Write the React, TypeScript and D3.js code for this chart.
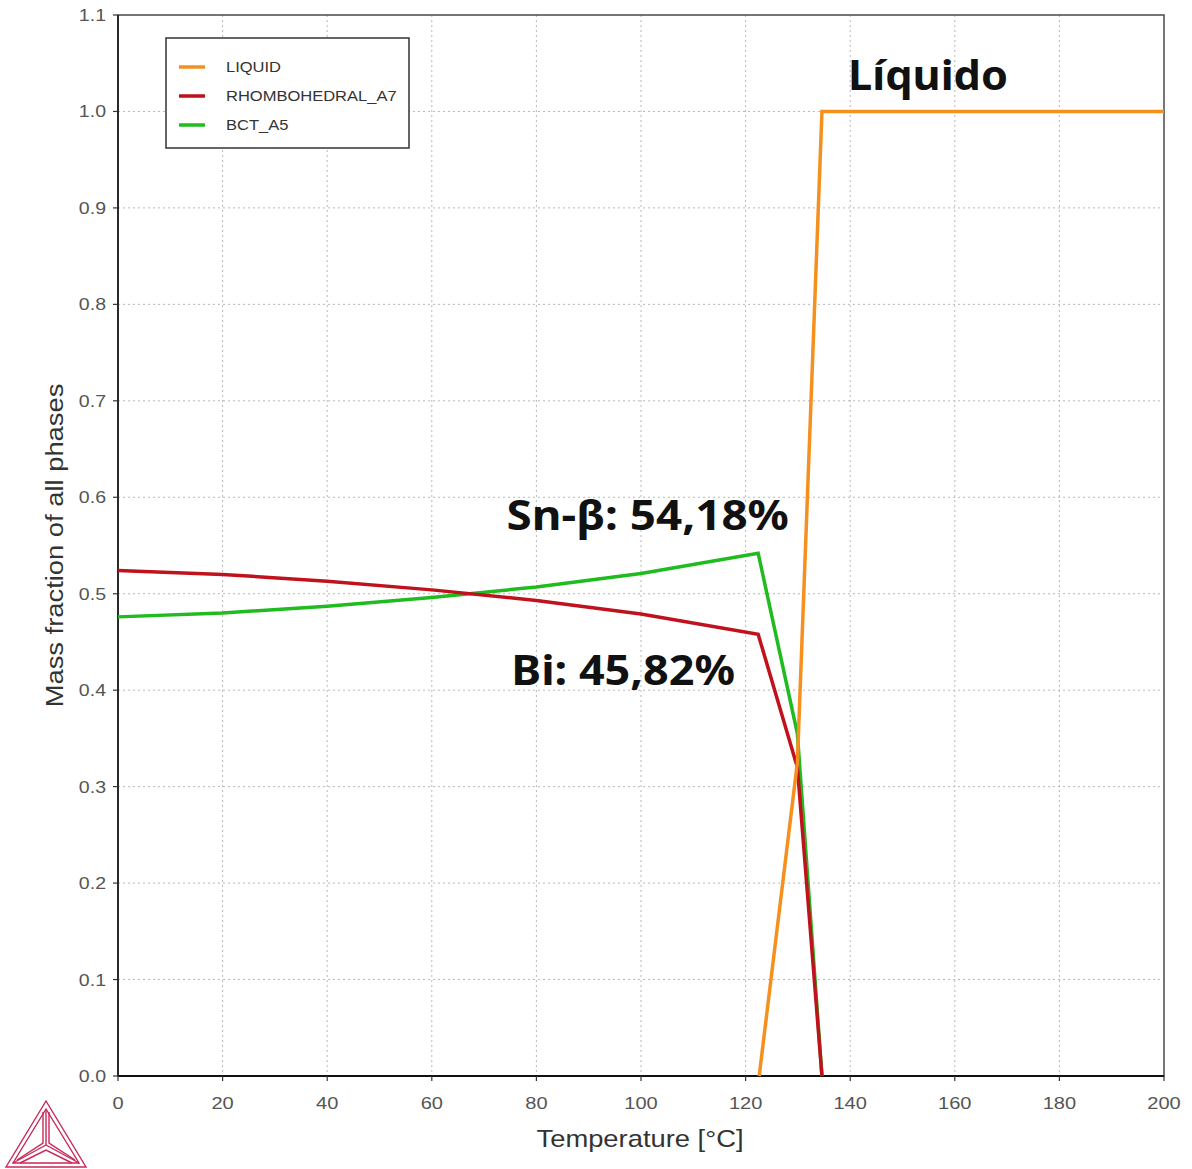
import { useEffect, useRef } from 'react';
import * as d3 from 'd3';

const WIDTH = 1192;
const HEIGHT = 1169;
const MARGIN = { top: 15, right: 28, bottom: 93, left: 118 };

const X_TICKS = [0, 20, 40, 60, 80, 100, 120, 140, 160, 180, 200];
const Y_TICKS = [0, 0.1, 0.2, 0.3, 0.4, 0.5, 0.6, 0.7, 0.8, 0.9, 1.0, 1.1];

const LIQUID_T = [122.6, 129.9, 134.6, 200];
const LIQUID_V = [0, 0.325, 1.0, 1.0];

const RHOMBO_T = [0, 20, 40, 60, 80, 100, 122.4, 129.9, 134.6];
const RHOMBO_V = [0.524, 0.520, 0.513, 0.504, 0.493, 0.479, 0.458, 0.32, 0];

const BCT_T = [0, 20, 40, 60, 80, 100, 122.4, 129.9, 134.6];
const BCT_V = [0.476, 0.480, 0.487, 0.496, 0.507, 0.521, 0.542, 0.355, 0];

const SERIES = [
  { name: 'LIQUID', color: '#f5901e', t: LIQUID_T, v: LIQUID_V },
  { name: 'RHOMBOHEDRAL_A7', color: '#c0121c', t: RHOMBO_T, v: RHOMBO_V },
  { name: 'BCT_A5', color: '#1fbb1f', t: BCT_T, v: BCT_V },
];
const DRAW_ORDER = [2, 1, 0];

const ANNOTATIONS = [
  { text: 'Líquido', t: 139.6, v: 1.022, sx: 1.03 },
  { text: 'Sn-β: 54,18%', t: 74.3, v: 0.566, sx: 1.09 },
  { text: 'Bi: 45,82%', t: 75.2, v: 0.405, sx: 1.07 },
];

const SANS = 'Liberation Sans, Arial, sans-serif';

export default function App() {
  const svgRef = useRef<SVGSVGElement>(null);

  useEffect(() => {
    if (!svgRef.current) return;
    const svg = d3.select(svgRef.current);
    svg.selectAll('*').remove();

    const W = WIDTH - MARGIN.left - MARGIN.right;
    const H = HEIGHT - MARGIN.top - MARGIN.bottom;
    const x = d3.scaleLinear().domain([0, 200]).range([0, W]);
    const y = d3.scaleLinear().domain([0, 1.1]).range([H, 0]);

    svg.append('rect').attr('width', WIDTH).attr('height', HEIGHT).attr('fill', '#fff');

    const g = svg.append('g').attr('transform', `translate(${MARGIN.left},${MARGIN.top})`);

    // stretched text helper (source picture is slightly wide)
    const stext = (parent: any, px: number, py: number, sx: number, txt: string) =>
      parent.append('text')
        .attr('transform', `translate(${px},${py}) scale(${sx},1)`)
        .text(txt);

    // grid
    X_TICKS.slice(1, -1).forEach(t => {
      g.append('line')
        .attr('x1', x(t)).attr('x2', x(t)).attr('y1', 0).attr('y2', H)
        .attr('stroke', '#b8b8b8').attr('stroke-width', 1).attr('stroke-dasharray', '2,3');
    });
    Y_TICKS.slice(1, -1).forEach(v => {
      g.append('line')
        .attr('x1', 0).attr('x2', W).attr('y1', y(v)).attr('y2', y(v))
        .attr('stroke', '#b8b8b8').attr('stroke-width', 1).attr('stroke-dasharray', '2,3');
    });

    // frame
    g.append('rect')
      .attr('x', 0).attr('y', 0).attr('width', W).attr('height', H)
      .attr('fill', 'none').attr('stroke', '#4a4a4a').attr('stroke-width', 1.5);
    g.append('line').attr('x1', 0).attr('x2', W).attr('y1', H).attr('y2', H)
      .attr('stroke', '#111').attr('stroke-width', 2);
    g.append('line').attr('x1', 0).attr('x2', 0).attr('y1', 0).attr('y2', H)
      .attr('stroke', '#222').attr('stroke-width', 1.8);

    // ticks + labels
    X_TICKS.forEach(t => {
      g.append('line').attr('x1', x(t)).attr('x2', x(t)).attr('y1', H).attr('y2', H + 5)
        .attr('stroke', '#333').attr('stroke-width', 1.2);
      stext(g, x(t), H + 33, 1.18, String(t))
        .attr('text-anchor', 'middle')
        .attr('font-family', SANS).attr('font-size', 17).attr('fill', '#555');
    });
    Y_TICKS.forEach(v => {
      g.append('line').attr('x1', -5).attr('x2', 0).attr('y1', y(v)).attr('y2', y(v))
        .attr('stroke', '#333').attr('stroke-width', 1.2);
      stext(g, -12, y(v) + 6, 1.15, v.toFixed(1))
        .attr('text-anchor', 'end')
        .attr('font-family', SANS).attr('font-size', 17).attr('fill', '#555');
    });

    // axis titles
    stext(svg, MARGIN.left + W / 2 - 1, 1147, 1.14, 'Temperature [°C]')
      .attr('text-anchor', 'middle')
      .attr('font-family', SANS).attr('font-size', 24).attr('fill', '#333');
    svg.append('text')
      .attr('transform', `translate(63,${MARGIN.top + y(0.55)}) rotate(-90) scale(1.14,1)`)
      .attr('text-anchor', 'middle')
      .attr('font-family', SANS).attr('font-size', 24).attr('fill', '#333')
      .text('Mass fraction of all phases');

    // series
    const line = d3.line<[number, number]>().x(d => x(d[0])).y(d => y(d[1]));
    DRAW_ORDER.forEach(i => {
      const s = SERIES[i];
      const pts = s.t.map((t, k) => [t, s.v[k]] as [number, number]);
      g.append('path').datum(pts)
        .attr('fill', 'none').attr('stroke', s.color)
        .attr('stroke-width', 3.5).attr('stroke-linejoin', 'miter')
        .attr('d', line);
    });

    // legend
    const lg = svg.append('g').attr('transform', 'translate(166,38)');
    lg.append('rect').attr('width', 243).attr('height', 110)
      .attr('fill', '#fff').attr('stroke', '#333').attr('stroke-width', 1.5);
    SERIES.forEach((s, i) => {
      const ly = 29 + i * 29;
      lg.append('line').attr('x1', 13).attr('x2', 39).attr('y1', ly).attr('y2', ly)
        .attr('stroke', s.color).attr('stroke-width', 3.5);
      stext(lg, 60, ly + 5, 1.18, s.name)
        .attr('font-family', SANS).attr('font-size', 14).attr('fill', '#333');
    });

    // annotations
    ANNOTATIONS.forEach(a => {
      stext(g, x(a.t), y(a.v), a.sx, a.text)
        .attr('font-family', 'Noto Sans, Open Sans, sans-serif')
        .attr('font-weight', 700).attr('font-size', 42).attr('fill', '#111');
    });

    // logo
    const logo = svg.append('g').attr('fill', 'none').attr('stroke', '#c8285a').attr('stroke-width', 1.4);
    const tri = (p: [number, number][]) => 'M' + p.map(q => q.join(',')).join('L') + 'Z';
    logo.append('path').attr('d', tri([[46, 1101], [6, 1167], [86, 1167]]));
    logo.append('path').attr('d', tri([[46, 1109], [13, 1163], [79, 1163]]));
    logo.append('path').attr('d', 'M46,1109L46,1145M13,1163L46,1145M79,1163L46,1145');
    logo.append('path').attr('d', 'M43,1112L43,1143L17,1160M49,1112L49,1143L75,1160M20,1163L46,1150L72,1163');
  }, []);

  return (
    <svg
      ref={svgRef}
      width={WIDTH}
      height={HEIGHT}
      style={{ display: 'block', position: 'absolute', left: 0, top: 0 }}
    />
  );
}
